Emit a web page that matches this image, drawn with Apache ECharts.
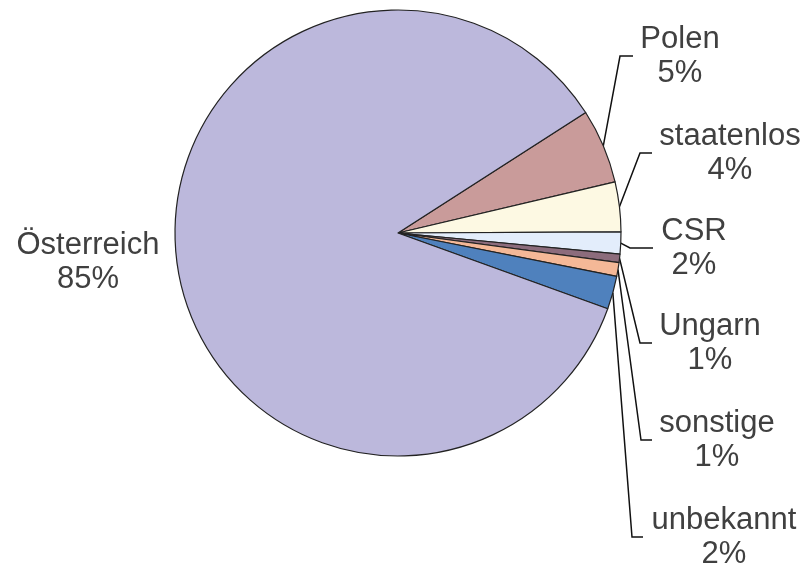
<!DOCTYPE html>
<html>
<head>
<meta charset="utf-8">
<script src="https://cdn.jsdelivr.net/npm/echarts@6/dist/echarts.min.js"></script>
<style>
html,body{margin:0;padding:0;background:#fff;}
#chart{width:807px;height:568px;}
</style>
</head>
<body>
<div id="chart"></div>
<script>
// Data (clockwise from Polen)
var categories = ['Polen', 'staatenlos', 'CSR', 'Ungarn', 'sonstige', 'unbekannt', 'Österreich'];
var values = [5.4, 3.6, 1.6, 0.6, 1.0, 2.4, 85.4];
var colors = ['#c99b9a', '#fdf9e3', '#e3edfb', '#8c6c7c', '#f4b897', '#4f81bd', '#bcb8dc'];

// Label placement (centre of the two-line text block) and leader line bends
var labelPos = [
  {x: 680, y: 56, bend: [620, 56], end: [633, 56]},
  {x: 730, y: 153, bend: [640, 153], end: [652, 153]},
  {x: 694, y: 248, bend: [630, 248], end: [653, 248]},
  {x: 710, y: 343, bend: [640, 343], end: [652, 343]},
  {x: 717, y: 440, bend: [641, 440], end: [652, 440]},
  {x: 724, y: 537, bend: [632, 537], end: [643, 537]},
  {x: 88, y: 262, bend: null, end: null}
];

var chart = echarts.init(document.getElementById('chart'), null, {renderer: 'canvas'});
var data = categories.map(function (c, i) {
  return {
    name: c,
    value: values[i],
    itemStyle: {color: colors[i]},
    labelLine: {show: i !== 6}
  };
});

chart.setOption({
  animation: false,
  series: [{
    type: 'pie',
    center: [398, 233],
    radius: 223,
    startAngle: 32.7,
    clockwise: true,
    data: data,
    itemStyle: {borderColor: '#222', borderWidth: 1.2},
    label: {
      show: true,
      position: 'outside',
      overflow: 'none',
      formatter: function (p) { return p.name + '\n' + Math.round(p.percent) + '%'; },
      fontFamily: 'Liberation Sans, Arial, sans-serif',
      fontSize: 31,
      lineHeight: 34,
      color: '#404040',
      align: 'center'
    },
    labelLine: {
      show: true,
      length: 10,
      length2: 10,
      lineStyle: {color: '#111', width: 1.5}
    },
    labelLayout: function (params) {
      var lp = labelPos[params.dataIndex];
      var out = {x: lp.x, y: lp.y, align: 'center', verticalAlign: 'middle'};
      if (lp.bend && params.labelLinePoints) {
        var s = params.labelLinePoints[0];
        out.labelLinePoints = [[s[0], s[1]], lp.bend, lp.end];
      }
      return out;
    }
  }]
});
</script>
</body>
</html>
